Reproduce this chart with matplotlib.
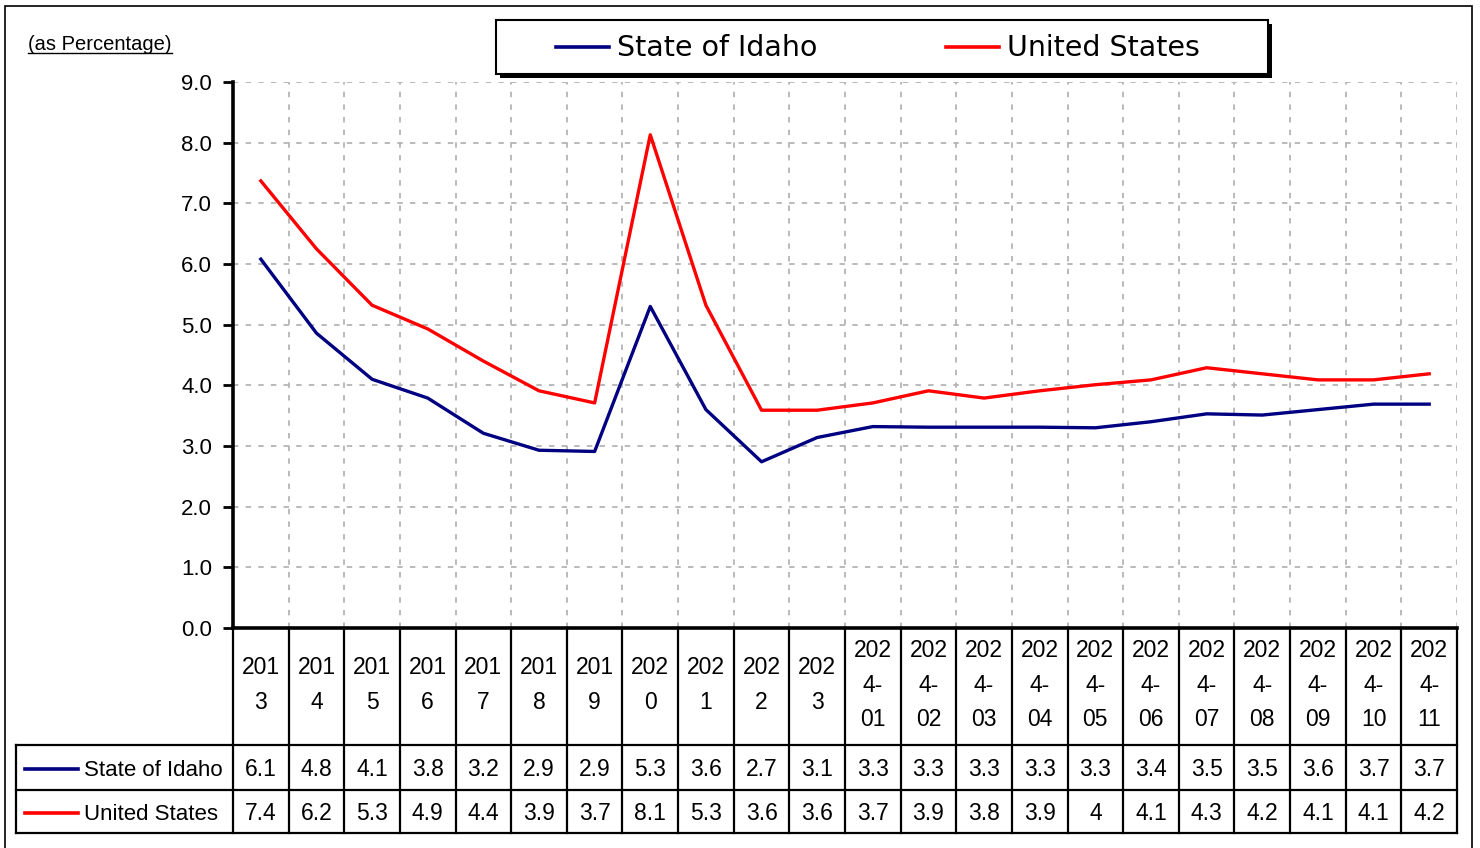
import matplotlib
matplotlib.use("Agg")
import matplotlib.pyplot as plt
from matplotlib.lines import Line2D
from matplotlib.patches import Rectangle

plt.rcParams["font.family"] = ["Liberation Sans", "DejaVu Sans"]

categories = ["2013", "2014", "2015", "2016", "2017", "2018", "2019", "2020",
              "2021", "2022", "2023", "2024-01", "2024-02", "2024-03", "2024-04",
              "2024-05", "2024-06", "2024-07", "2024-08", "2024-09", "2024-10",
              "2024-11"]
# unrounded values
idaho = [6.08, 4.86, 4.10, 3.79, 3.21, 2.93, 2.91, 5.30, 3.60, 2.74, 3.14,
         3.32, 3.31, 3.31, 3.31, 3.30, 3.40, 3.53, 3.51, 3.60, 3.69, 3.69]
us = [7.37, 6.25, 5.32, 4.93, 4.40, 3.91, 3.71, 8.13, 5.32, 3.59, 3.59,
      3.71, 3.91, 3.79, 3.91, 4.01, 4.09, 4.29, 4.19, 4.09, 4.09, 4.19]
# values as printed in the data table
idaho_table = ["6.1", "4.8", "4.1", "3.8", "3.2", "2.9", "2.9", "5.3", "3.6",
               "2.7", "3.1", "3.3", "3.3", "3.3", "3.3", "3.3", "3.4", "3.5",
               "3.5", "3.6", "3.7", "3.7"]
us_table = ["7.4", "6.2", "5.3", "4.9", "4.4", "3.9", "3.7", "8.1", "5.3",
            "3.6", "3.6", "3.7", "3.9", "3.8", "3.9", "4", "4.1", "4.3", "4.2",
            "4.1", "4.1", "4.2"]
series_names = ["State of Idaho", "United States"]
series_colors = ["#000080", "#FF0000"]
yticks = [0, 1, 2, 3, 4, 5, 6, 7, 8, 9]

W, H = 1480, 848


def fx(x):
    return x / W


def fy(y):
    return 1 - y / H


fig = plt.figure(figsize=(W / 100, H / 100), dpi=100)

# outer frame (bottom edge runs off the image)
fig.patches.append(Rectangle((fx(5), fy(852)), fx(1472 - 5), (852 - 6) / H,
                             transform=fig.transFigure, fill=False,
                             edgecolor="black", linewidth=1.2))

ax = fig.add_axes([fx(233), fy(628), (1457 - 233) / W, (628 - 82) / H])
x = list(range(len(categories)))
ax.plot(x, idaho, color=series_colors[0], linewidth=2.4, zorder=3)
ax.plot(x, us, color=series_colors[1], linewidth=2.4, zorder=3)
ax.set_xlim(-0.5, len(categories) - 0.5)
ax.set_ylim(0, 9)
ax.set_yticks(yticks, labels=[f"{v:.1f}" for v in yticks])
ax.set_xticks([])
ax.tick_params(axis="y", length=7, width=2, pad=8, labelsize=16)
for s in ["top", "right"]:
    ax.spines[s].set_visible(False)
for s in ["left", "bottom"]:
    ax.spines[s].set_linewidth(2.6)

grid_kw = dict(color="#B4B4B4", linewidth=1.3, linestyle=(0, (3, 4)), zorder=1)
for v in yticks[1:]:
    ax.axhline(v, **grid_kw)
for k in range(len(categories)):
    ax.axvline(k + 0.5, **grid_kw)

# data table under the plot
cat_w = (1457 - 233) / len(categories)
left = -0.5 - (233 - 16) / cat_w
tab = fig.add_axes([fx(16), fy(833), (1457 - 16) / W, (833 - 628) / H])
tab.set_xlim(left, len(categories) - 0.5)
tab.set_ylim(205, 0)
tab.axis("off")
lw = 1.6
for yy in [117, 162, 205]:
    tab.plot([left, len(categories) - 0.5], [yy, yy], color="black", lw=lw,
             clip_on=False)
tab.plot([left, left], [117, 205], color="black", lw=lw, clip_on=False)
for k in range(len(categories) + 1):
    tab.plot([k - 0.5, k - 0.5], [0, 205], color="black", lw=lw, clip_on=False)

for k, c in enumerate(categories):
    lab = c[:3] + "\n" + c[3:5] + ("\n" + c[5:] if len(c) > 5 else "")
    tab.text(k, 57, lab, ha="center", va="center", fontsize=16.5,
             linespacing=1.63)
    tab.text(k, 142, idaho_table[k], ha="center", va="center", fontsize=16.5)
    tab.text(k, 186, us_table[k], ha="center", va="center", fontsize=16.5)

for yy, name, col in zip([142, 186], series_names, series_colors):
    x0 = left + 9 / cat_w
    tab.plot([x0, x0 + 53 / cat_w], [yy - 1, yy - 1], color=col, lw=2.6)
    tab.text(x0 + 59 / cat_w, yy, name, ha="left", va="center",
             fontsize=16)

# legend box with shadow
fig.patches.append(Rectangle((fx(500), fy(78)), (1272 - 500) / W, 54 / H,
                             transform=fig.transFigure, facecolor="black",
                             edgecolor="none", zorder=5))
fig.patches.append(Rectangle((fx(496), fy(74)), (1268 - 496) / W, 54 / H,
                             transform=fig.transFigure, facecolor="white",
                             edgecolor="black", linewidth=1.5, zorder=6))
for x0, name, col in zip([556, 946], series_names, series_colors):
    fig.lines.append(Line2D([fx(x0), fx(x0 + 53)], [fy(47), fy(47)],
                            transform=fig.transFigure, color=col, lw=2.6,
                            zorder=7))
    fig.text(fx(x0 + 61), fy(48), name, ha="left", va="center", fontsize=20.5,
             family="DejaVu Sans", zorder=7)

# underlined units label
t = fig.text(fx(28), fy(44), "(as Percentage)", ha="left", va="center",
             fontsize=14.5)
fig.canvas.draw()
bb = t.get_window_extent()
fig.lines.append(Line2D([bb.x0 / W, bb.x1 / W], [(bb.y0 + 1) / H] * 2,
                        transform=fig.transFigure, color="black", lw=1))

fig.savefig("out.png", dpi=100)
